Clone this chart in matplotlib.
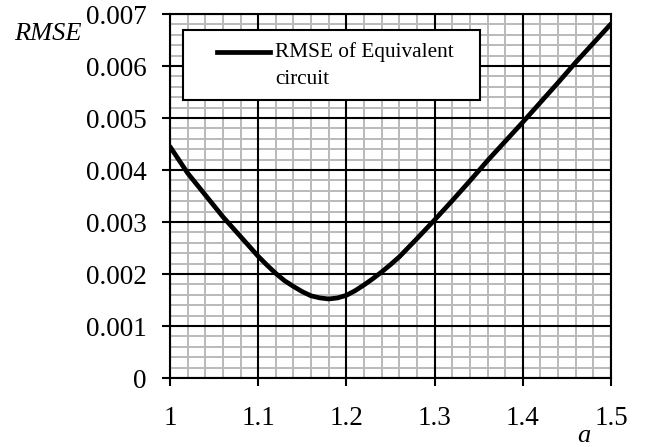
#!/usr/bin/env python3
"""RMSE of the equivalent circuit as a function of a."""

import matplotlib
matplotlib.use('Agg')
import matplotlib.pyplot as plt
from matplotlib.patches import Rectangle
from matplotlib.ticker import FixedLocator, MultipleLocator, FixedFormatter

# Values
a_values = [1.00, 1.02, 1.04, 1.06, 1.08, 1.10, 1.11, 1.12, 1.13, 1.14,
            1.15, 1.16, 1.17, 1.18, 1.19, 1.20, 1.21, 1.22, 1.23, 1.24,
            1.25, 1.26, 1.28, 1.30, 1.32, 1.34, 1.36, 1.38, 1.40, 1.42,
            1.44, 1.46, 1.48, 1.50]
rmse_values = [0.00445, 0.00394, 0.00352, 0.00310, 0.00272, 0.00234,
               0.00217, 0.00201, 0.00187, 0.00176, 0.00166, 0.00158,
               0.00154, 0.00152, 0.00154, 0.00159, 0.00168, 0.00179,
               0.00191, 0.00204, 0.00218, 0.00233, 0.00268, 0.00304,
               0.00341, 0.00379, 0.00418, 0.00455, 0.00492, 0.00530,
               0.00568, 0.00607, 0.00644, 0.00681]

x_ticks = [1.0, 1.1, 1.2, 1.3, 1.4, 1.5]
x_tick_labels = ['1', '1.1', '1.2', '1.3', '1.4', '1.5']
y_ticks = [0, 0.001, 0.002, 0.003, 0.004, 0.005, 0.006, 0.007]
y_tick_labels = ['0', '0.001', '0.002', '0.003', '0.004', '0.005', '0.006', '0.007']

plt.rcParams['font.family'] = ['Liberation Serif', 'DejaVu Serif']

fig = plt.figure(figsize=(6.55, 4.47), dpi=100)
ax = fig.add_axes([170 / 655, 69 / 447, 441 / 655, 364 / 447])

ax.plot(a_values, rmse_values, color='black', linewidth=3.4,
        solid_joinstyle='round', solid_capstyle='round', zorder=5)

ax.set_xlim(1.0, 1.5)
ax.set_ylim(0, 0.007)

ax.xaxis.set_major_locator(FixedLocator(x_ticks))
ax.xaxis.set_major_formatter(FixedFormatter(x_tick_labels))
ax.yaxis.set_major_locator(FixedLocator(y_ticks))
ax.yaxis.set_major_formatter(FixedFormatter(y_tick_labels))
ax.xaxis.set_minor_locator(MultipleLocator(0.02))
ax.yaxis.set_minor_locator(MultipleLocator(0.0002))

# minor grid grey, major grid black on top of it
ax.grid(which='minor', color='#bababa', linewidth=1.4)
ax.set_axisbelow(True)
for xv in x_ticks:
    ax.axvline(xv, color='black', linewidth=1.5, zorder=2)
for yv in y_ticks:
    ax.axhline(yv, color='black', linewidth=1.5, zorder=2)

ax.tick_params(which='major', direction='out', length=6, width=1.5,
               labelsize=19.5, colors='black')
ax.tick_params(axis='x', pad=14)
ax.tick_params(axis='y', pad=11)
ax.tick_params(which='minor', length=0)

for sp in ax.spines.values():
    sp.set_linewidth(1.5)
    sp.set_color('black')

# legend box (drawn by hand so the handle sits on the first text line)
ax.add_patch(Rectangle((0.0295, 0.7637), 0.6735, 0.1923, transform=ax.transAxes,
                       facecolor='white', edgecolor='black', linewidth=1.5,
                       zorder=6))
ax.plot([0.1066, 0.2268], [0.8956, 0.8956], transform=ax.transAxes,
        color='black', linewidth=3.4, zorder=7)
ax.text(0.2381, 0.8956, 'RMSE of Equivalent', transform=ax.transAxes,
        fontsize=15.3, ha='left', va='center', zorder=7)
ax.text(0.2381, 0.8187, 'circuit', transform=ax.transAxes,
        fontsize=15.3, ha='left', va='center', zorder=7)

fig.text(14 / 655, 1 - 34 / 447, 'RMSE', fontsize=19, style='italic',
         ha='left', va='center')
fig.text(584 / 655, 1 - 436 / 447, 'a', fontsize=19, style='italic',
         ha='center', va='center')

fig.savefig('out.png', dpi=100)
